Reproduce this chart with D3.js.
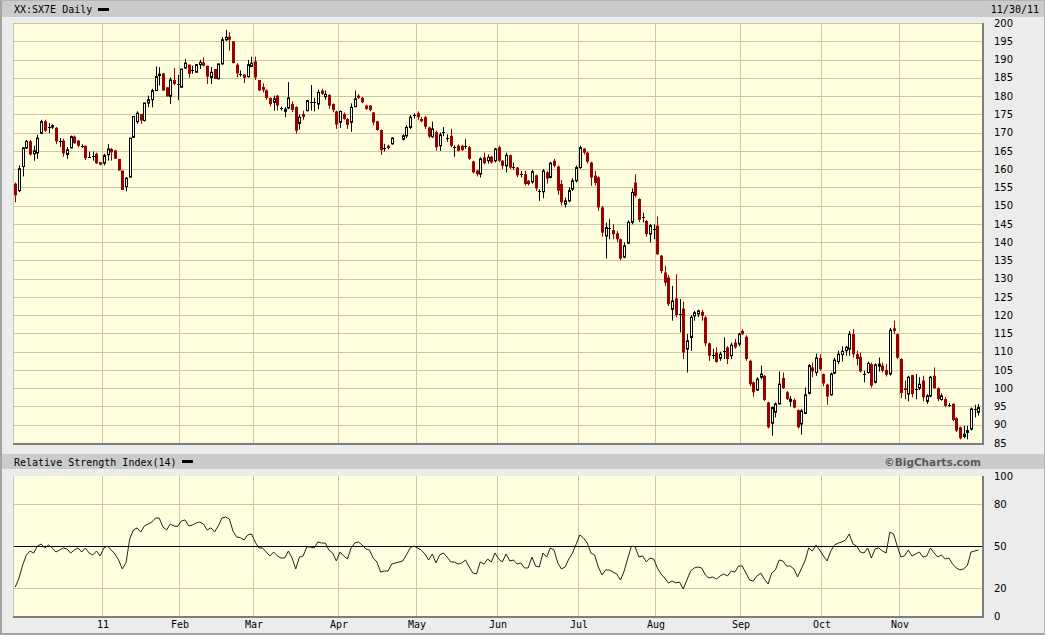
<!DOCTYPE html>
<html><head><meta charset="utf-8">
<script src="https://cdn.jsdelivr.net/npm/d3@7"></script>
<style>
html,body{margin:0;padding:0;background:#ececec;}
svg{display:block;}
</style></head>
<body><svg id="c" width="1045" height="635"></svg>
<script>
// ---------- DATA ----------
const symbolTitle = "XX:SX7E Daily";
const dateTitle = "11/30/11";
const rsiTitle = "Relative Strength Index(14)";
const credit = "\u00A9BigCharts.com";
const startDate = "2010-11-30";
const endDate = "2011-11-30";
const firstTickMonth = "2011-01";
const holidays = ["2011-04-22", "2011-04-25"];
const monthLabels = ["11","Feb","Mar","Apr","May","Jun","Jul","Aug","Sep","Oct","Nov"];
const priceTicks = [85,90,95,100,105,110,115,120,125,130,135,140,145,150,155,160,165,170,175,180,185,190,195,200];
const rsiTicks = [0,20,50,80,100];
const rsiGrid = [20,80];

const open = [156.0,154.1,160.7,165.8,167.6,164.2,164.4,169.8,173.1,171.3,171.5,171.3,167.4,167.8,164.0,165.8,168.9,167.8,166.4,166.4,163.6,163.7,164.2,161.9,
161.6,163.9,165.5,165.1,162.8,159.6,155.2,157.8,168.7,173.0,175.1,173.3,178.1,179.0,181.5,185.6,186.2,182.4,179.9,184.4,183.0,
182.4,187.7,188.6,187.0,186.5,188.6,189.2,188.3,185.1,187.4,184.7,188.8,195.4,196.3,195.0,188.6,186.0,185.9,185.3,188.1,
189.5,184.4,182.5,181.6,179.5,178.3,180.1,176.8,175.8,176.7,177.8,177.0,172.5,175.1,176.0,178.5,178.6,177.8,181.5,179.8,180.3,177.8,175.8,
172.8,175.1,173.7,172.8,177.1,180.1,179.5,177.4,177.4,175.5,173.1,170.7,165.7,166.4,166.9,168.2,169.1,171.4,174.6,
175.3,173.7,174.2,171.4,168.9,170.1,166.4,170.1,168.4,169.1,166.1,166.4,166.4,166.3,166.0,162.1,159.6,158.6,163.2,162.3,163.4,162.3,
166.0,162.3,160.9,163.8,160.6,160.4,158.5,158.6,156.8,156.5,158.3,154.2,153.8,159.1,157.7,162.3,160.7,155.9,150.4,151.3,154.5,156.8,
160.4,165.6,164.5,161.8,158.2,157.7,149.5,141.7,143.9,143.3,142.4,140.8,135.9,139.7,145.4,156.3,151.8,146.9,145.8,142.2,143.5,
144.5,136.3,131.7,130.3,121.6,124.6,120.4,121.8,110.7,113.9,119.8,120.3,120.9,119.4,112.3,109.1,109.8,108.2,110.1,111.2,108.9,112.5,112.1,
115.7,114.1,107.5,101.6,99.5,103.0,103.4,96.1,90.4,93.4,95.7,102.8,98.9,96.4,96.8,94.0,90.2,93.1,98.6,105.7,104.3,108.3,
103.9,101.0,98.2,104.1,107.3,109.2,110.3,110.7,114.8,109.3,108.6,104.1,104.3,106.6,101.6,106.0,106.2,105.0,103.9,116.4,114.8,
108.0,100.0,98.4,103.6,99.7,100.0,102.1,96.4,97.9,103.4,100.0,96.9,97.0,95.3,95.7,91.8,89.3,86.8,87.9,88.8,94.2,93.4];
const high = [156.3,161.0,166.0,168.0,168.0,166.4,169.4,173.5,173.5,172.6,172.3,171.5,168.5,168.3,166.0,169.2,169.2,168.0,166.8,166.4,164.8,164.8,164.5,162.0,
164.2,166.9,165.8,165.3,162.8,159.6,157.8,168.5,174.4,175.8,175.1,178.1,180.1,182.0,188.1,187.9,186.2,182.4,185.1,187.7,185.8,
187.4,190.2,188.6,188.3,188.6,189.9,190.6,188.3,187.9,187.4,188.8,196.1,198.1,197.5,195.0,189.0,187.0,185.9,189.9,190.8,
190.8,184.4,183.5,181.8,179.6,180.1,180.3,177.1,177.0,183.8,178.5,177.2,175.0,176.0,179.0,183.0,179.5,181.8,182.0,181.5,180.5,178.0,176.0,
176.0,175.5,174.0,178.0,181.5,180.5,179.8,177.6,177.5,175.6,173.2,170.8,166.9,166.7,168.7,169.5,172.0,174.8,175.3,
175.8,174.3,174.5,171.6,173.0,170.5,170.0,171.5,169.5,171.0,166.5,166.8,166.7,168.2,166.3,162.3,159.8,163.2,164.5,164.0,163.6,165.8,
166.4,162.5,164.5,164.0,161.8,160.6,159.5,159.5,157.0,159.8,158.5,154.5,160.0,159.5,162.0,162.8,161.0,157.0,152.2,155.0,157.5,160.9,
166.4,165.8,164.8,162.0,159.5,158.0,149.9,145.4,146.3,144.9,143.0,141.0,139.9,146.0,154.7,158.6,152.0,148.1,146.0,145.0,144.9,
147.0,136.5,133.5,131.0,128.0,131.2,124.4,123.7,114.8,120.0,121.2,121.5,121.5,119.8,112.5,110.8,111.2,110.0,113.9,111.5,112.5,113.5,115.2,
116.2,114.5,107.8,101.8,103.0,106.2,103.6,96.3,95.0,96.1,104.6,104.3,99.2,97.9,97.2,94.2,94.3,100.2,106.6,107.0,109.5,109.3,
104.0,101.2,104.3,108.3,110.3,111.5,111.6,115.7,116.2,110.3,109.8,104.8,107.3,107.0,106.8,108.4,107.0,106.6,116.5,118.5,115.0,
108.2,102.1,103.4,103.7,103.9,103.0,103.4,98.4,103.4,105.7,100.2,98.6,97.6,96.0,95.9,92.0,89.5,89.7,89.7,94.7,95.5,95.7];
const low = [150.9,153.7,158.0,165.5,163.7,162.3,162.8,169.6,170.1,169.8,171.0,166.9,166.1,163.4,162.8,165.8,166.9,166.0,165.8,162.5,163.2,162.3,161.4,161.0,
161.0,162.3,162.3,162.8,159.6,154.3,153.9,157.8,168.5,172.4,172.4,173.0,176.9,176.9,181.5,182.9,181.5,179.9,177.8,182.9,178.9,
182.4,187.4,185.0,186.1,186.5,187.4,188.1,183.3,183.3,184.7,184.7,188.6,195.1,192.4,189.0,185.1,185.3,183.5,185.1,187.9,
184.4,181.5,181.0,179.0,177.2,176.0,176.0,176.0,174.2,176.4,175.6,169.7,170.8,173.5,175.8,176.0,175.8,176.4,180.3,179.0,176.5,175.6,171.0,
171.3,173.5,171.0,170.2,176.9,179.2,178.0,176.2,175.8,172.0,170.5,163.9,164.8,165.4,166.7,167.8,168.5,171.0,173.8,
173.5,172.8,171.0,168.5,168.5,165.0,165.0,169.0,167.5,166.0,163.4,164.8,165.0,165.5,162.5,158.8,158.0,157.7,161.3,161.5,161.5,161.8,
162.0,160.0,159.1,160.0,159.8,157.8,157.7,155.5,155.5,156.0,154.0,151.3,152.0,156.0,157.5,160.5,153.0,150.0,149.5,150.9,154.0,156.3,
160.1,164.0,161.5,155.4,155.5,148.5,141.5,135.5,140.8,140.8,140.0,135.0,135.6,139.5,144.9,152.2,145.5,145.4,141.5,139.9,140.8,
136.5,131.5,128.0,122.5,118.5,119.4,115.3,108.0,104.3,110.2,118.5,119.5,118.5,111.5,107.5,108.0,107.0,107.5,108.0,106.6,108.0,110.8,111.5,
114.6,107.5,100.5,97.7,99.3,102.5,96.5,89.0,87.0,92.0,95.5,99.8,96.8,95.0,94.5,89.0,87.3,92.9,98.3,103.0,103.4,104.8,
100.5,95.5,98.0,103.8,106.6,107.3,108.9,108.9,108.4,106.2,104.3,101.6,104.0,100.2,101.3,104.6,104.3,103.2,103.5,114.8,108.0,
97.3,97.0,96.4,97.5,97.0,99.5,96.4,95.7,97.5,99.8,96.4,96.6,94.8,94.9,91.0,88.0,86.0,86.3,86.0,88.4,92.0,92.5];
const close = [152.8,160.1,165.8,167.6,164.0,165.0,168.5,173.0,170.5,171.5,171.9,167.6,167.6,164.3,165.3,168.9,167.1,166.4,166.3,163.0,163.4,163.6,161.6,161.2,
163.7,165.5,164.6,162.8,159.6,154.3,157.5,168.5,174.4,175.3,173.3,178.1,179.0,181.5,185.3,186.0,181.5,179.9,184.4,183.3,183.2,
187.4,189.0,186.1,187.0,188.6,189.2,188.3,185.3,186.5,184.7,188.8,195.4,196.1,195.4,189.0,186.2,186.0,185.0,188.6,189.0,
185.1,181.5,181.6,179.5,177.8,179.2,177.4,176.6,176.4,179.5,176.2,170.5,174.2,174.3,178.7,178.5,178.3,181.0,180.6,180.5,177.4,176.2,172.2,
175.8,173.7,172.1,176.9,179.2,179.5,178.3,176.5,176.2,172.8,170.7,165.2,165.9,165.7,168.5,169.1,171.4,174.2,174.7,
174.2,173.1,171.6,168.9,171.0,166.0,169.4,170.2,168.5,166.4,166.0,165.0,165.2,166.4,162.8,159.1,158.6,162.8,161.6,163.2,161.8,165.5,
162.3,160.9,163.8,160.4,160.7,158.3,158.6,155.9,155.9,159.3,154.7,154.1,159.5,157.4,161.6,160.9,154.1,150.9,151.3,154.1,156.8,160.4,
165.9,164.5,162.0,157.7,156.2,149.5,142.6,144.0,143.8,142.2,140.8,135.5,139.0,145.4,153.6,152.7,146.1,146.8,142.2,144.5,143.6,
136.7,132.1,128.9,123.0,123.9,120.0,120.3,109.8,113.0,119.4,120.7,121.2,119.8,112.3,108.9,109.0,107.2,109.3,110.2,108.0,111.8,111.2,114.8,
114.8,108.0,101.1,98.9,102.5,103.9,96.8,89.3,94.7,95.7,101.1,100.0,97.0,97.0,94.7,89.3,93.8,98.2,106.2,104.6,108.3,105.2,
101.3,97.7,103.9,107.7,109.3,110.1,111.2,114.8,109.3,108.0,104.6,104.0,106.8,100.7,106.4,106.6,104.8,103.7,115.9,115.7,108.4,
98.7,99.5,103.0,98.4,99.8,101.1,97.5,97.9,103.0,100.0,97.0,97.9,95.2,95.4,91.3,88.4,86.3,87.4,88.4,94.3,94.3,94.7];

// RSI(14) values, one per trading day
const rsi = [20.7,27.1,36.4,43.6,46.4,45.0,50.0,51.4,48.6,50.7,
48.6,45.7,47.1,48.6,47.9,45.0,47.1,48.6,45.7,48.6,
45.0,43.6,46.4,42.9,48.6,50.0,47.1,44.3,40.0,33.6,
37.9,55.0,61.4,62.9,60.0,64.3,65.7,67.1,70.0,70.0,
63.6,61.4,65.7,64.3,64.0,67.9,68.6,64.3,65.0,66.4,
67.1,65.7,61.4,63.0,60.0,64.3,70.0,70.7,69.3,60.7,
56.4,56.0,54.3,57.9,58.6,52.9,48.6,48.6,45.7,42.9,
45.7,42.9,41.4,41.4,46.4,41.4,33.6,42.1,42.9,49.3,
49.3,48.6,52.9,52.1,52.1,47.1,45.0,39.3,45.7,42.9,
40.7,48.6,52.1,52.9,50.7,47.9,47.1,41.4,38.6,31.4,
32.1,32.1,37.1,
39.3,43.6,48.6,50.0,48.6,
47.1,44.3,40.0,44.3,37.9,43.6,45.0,42.1,38.6,38.6,
37.1,37.9,40.0,35.0,30.7,30.0,38.6,37.1,40.7,38.6,
45.0,40.7,38.6,44.3,39.3,40.0,37.1,37.9,34.3,34.3,
42.1,35.7,35.0,45.0,42.1,48.6,47.1,37.9,33.6,35.0,
40.7,45.0,51.4,57.9,55.7,52.1,45.0,43.6,35.0,29.3,
32.9,32.9,31.4,30.0,25.7,32.1,41.4,50.0,49.3,42.1,
43.0,38.6,41.4,40.7,34.3,30.0,27.1,23.6,25.0,23.6,
24.3,19.3,25.7,32.1,34.3,35.0,34.3,29.3,27.1,27.9,
26.4,28.6,30.0,28.6,32.1,31.4,35.7,35.7,30.7,25.7,
25.0,28.6,30.7,26.4,22.9,30.7,32.9,40.0,39.3,35.7,
35.7,33.6,27.9,33.6,39.3,48.6,46.4,50.7,47.1,42.9,
39.3,46.4,50.7,52.1,52.9,54.3,58.6,51.4,50.0,45.7,
45.0,48.6,41.4,47.9,48.6,46.4,45.0,60.0,58.6,50.0,
42.1,43.0,47.1,42.9,44.3,45.7,42.1,42.9,48.6,45.0,
42.1,43.6,40.7,41.4,37.1,34.3,32.9,33.6,36.0,45.7,
46.4,47.1];

// ---------- LAYOUT ----------
const W = 1045, H = 635;
const plotL = 14, plotR = 982;
const mainT = 23, mainB = 443;
const rsiT = 476, rsiB = 616;
const bg = "#ffffe0", gridCol = "#cdc89c", upFill = "#ffffe0", downCol = "#990000";
const mono = "'DejaVu Sans Mono', monospace";
const sans = "'DejaVu Sans', Verdana, sans-serif";

const svg = d3.select("#c");

// dates
const parse = d3.utcParse("%Y-%m-%d"), fmt = d3.utcFormat("%Y-%m-%d");
const weekdays = d3.utcDays(parse(startDate), d3.utcDay.offset(parse(endDate), 1))
  .filter(d => d.getUTCDay() !== 0 && d.getUTCDay() !== 6).map(fmt);
const tradingDays = weekdays.filter(d => !holidays.includes(d));
const rows = tradingDays.map((d, i) => ({d, o: open[i], h: high[i], l: low[i], c: close[i]}));

const x = d3.scalePoint().domain(weekdays).range([15.3, 978.4]);
const y = d3.scaleLinear().domain([85, 200]).range([mainB, mainT]);
const yr = d3.scaleLinear().domain([0, 100]).range([rsiB, rsiT]);

// month starts (first weekday of each month, from January 2011)
const monthStarts = [];
weekdays.forEach((d, i) => {
  if (i > 0 && d.slice(0,7) !== weekdays[i-1].slice(0,7) && d.slice(0,7) >= firstTickMonth) monthStarts.push(d);
});
const gx = d => Math.round(x(d)) - 1.5;

// background
svg.append("rect").attr("width", W).attr("height", H).attr("fill", "#ececec");
svg.append("rect").attr("x", 0).attr("y", 0).attr("width", 2).attr("height", H).attr("fill", "#a4a4a4");
svg.append("rect").attr("x", 0).attr("y", H - 2).attr("width", W).attr("height", 2).attr("fill", "#a4a4a4");
svg.append("rect").attr("x", 0).attr("y", 0).attr("width", W).attr("height", 1).attr("fill", "#b4b4b4");
svg.append("rect").attr("x", W - 1).attr("y", 0).attr("width", 1).attr("height", H).attr("fill", "#b4b4b4");

// header bars
svg.append("rect").attr("x", 2).attr("y", 1).attr("width", W - 3).attr("height", 16).attr("fill", "#cbcbcb");
svg.append("rect").attr("x", 2).attr("y", 454).attr("width", W - 3).attr("height", 15).attr("fill", "#cbcbcb");

svg.append("text").attr("x", 14).attr("y", 13).attr("font-family", mono).attr("font-size", 10).text(symbolTitle);
svg.append("rect").attr("x", 98).attr("y", 8).attr("width", 11).attr("height", 3).attr("fill", "#000");
svg.append("text").attr("x", 1039).attr("y", 13).attr("text-anchor", "end").attr("font-family", mono).attr("font-size", 10).text(dateTitle);

svg.append("text").attr("x", 14).attr("y", 465.5).attr("font-family", mono).attr("font-size", 10).text(rsiTitle);
svg.append("rect").attr("x", 182).attr("y", 460).attr("width", 11).attr("height", 3).attr("fill", "#000");
svg.append("text").attr("x", 981).attr("y", 465.5).attr("text-anchor", "end").attr("font-family", sans)
  .attr("font-size", 10.5).attr("font-weight", "bold").attr("fill", "#5a5a5a").text(credit);

// plot panels
function panel(top, bottom) {
  svg.append("rect").attr("x", plotL).attr("y", top).attr("width", plotR - plotL).attr("height", bottom - top).attr("fill", bg);
}
panel(mainT, mainB);
panel(rsiT, rsiB);

// main grid
const gMain = svg.append("g");
gMain.selectAll("line.h").data(priceTicks).join("line")
  .attr("x1", plotL).attr("x2", plotR).attr("y1", d => Math.round(y(d)) + 0.5).attr("y2", d => Math.round(y(d)) + 0.5)
  .attr("stroke", gridCol);
gMain.selectAll("line.v").data(monthStarts).join("line")
  .attr("x1", gx).attr("x2", gx).attr("y1", mainT).attr("y2", mainB).attr("stroke", gridCol);

// RSI grid
const gR = svg.append("g");
gR.selectAll("line.h").data(rsiGrid).join("line")
  .attr("x1", plotL).attr("x2", plotR).attr("y1", d => Math.round(yr(d)) + 0.5).attr("y2", d => Math.round(yr(d)) + 0.5)
  .attr("stroke", gridCol);
gR.selectAll("line.v").data(monthStarts).join("line")
  .attr("x1", gx).attr("x2", gx).attr("y1", rsiT).attr("y2", rsiB).attr("stroke", gridCol);
gR.append("line").attr("x1", plotL).attr("x2", plotR).attr("y1", Math.round(yr(50)) + 0.5).attr("y2", Math.round(yr(50)) + 0.5)
  .attr("stroke", "#000");

// panel borders
function border(top, bottom) {
  svg.append("line").attr("x1", plotL - 0.5).attr("x2", plotL - 0.5).attr("y1", top).attr("y2", bottom).attr("stroke", "#c8c8b8");
  svg.append("rect").attr("x", plotL - 1).attr("y", bottom).attr("width", plotR - plotL + 2).attr("height", 2).attr("fill", "#7d7d7d");
  svg.append("rect").attr("x", plotR).attr("y", top).attr("width", 2).attr("height", bottom - top + 2).attr("fill", "#7d7d7d");
}
border(mainT, mainB);
border(rsiT, rsiB);

// candles
const gc = svg.append("g");
const cx = r => Math.round(x(r.d));
const isDoji = r => Math.abs(r.c - r.o) < 0.35;
const isUp = r => r.c >= r.o;
gc.selectAll("line.wick").data(rows).join("line")
  .attr("x1", r => cx(r) + 0.5).attr("x2", r => cx(r) + 0.5)
  .attr("y1", r => y(r.h)).attr("y2", r => y(r.l))
  .attr("stroke", r => (isUp(r) || isDoji(r)) ? "#000" : downCol);
gc.selectAll("rect.down").data(rows.filter(r => !isUp(r) && !isDoji(r))).join("rect")
  .attr("x", r => cx(r) - 1).attr("width", 3)
  .attr("y", r => y(r.o)).attr("height", r => Math.max(1, y(r.c) - y(r.o)))
  .attr("fill", downCol);
gc.selectAll("rect.up").data(rows.filter(r => isUp(r) && !isDoji(r))).join("rect")
  .attr("x", r => cx(r) - 0.5).attr("width", 2)
  .attr("y", r => y(r.c)).attr("height", r => Math.max(1, y(r.o) - y(r.c)))
  .attr("fill", upFill).attr("stroke", "#000").attr("stroke-width", 1);
gc.selectAll("line.doji").data(rows.filter(isDoji)).join("line")
  .attr("x1", r => cx(r) - 1).attr("x2", r => cx(r) + 2)
  .attr("y1", r => Math.round(y(r.c)) + 0.5).attr("y2", r => Math.round(y(r.c)) + 0.5)
  .attr("stroke", "#000");

// RSI line
const rsiPts = tradingDays.map((d, i) => ({d, v: rsi[i]}));
svg.append("path").datum(rsiPts)
  .attr("d", d3.line().x(p => x(p.d)).y(p => yr(p.v)))
  .attr("fill", "none").attr("stroke", "#222").attr("stroke-width", 1);

// axes (labels only)
const axisR = svg.append("g").attr("transform", `translate(994,0)`)
  .call(d3.axisRight(y).tickValues(priceTicks).tickSize(0).tickPadding(0));
axisR.select(".domain").remove();
axisR.selectAll("text").attr("font-family", sans).attr("font-size", 10).attr("fill", "#000");

const axisRR = svg.append("g").attr("transform", `translate(994,0)`)
  .call(d3.axisRight(yr).tickValues(rsiTicks).tickSize(0).tickPadding(0));
axisRR.select(".domain").remove();
axisRR.selectAll("text").attr("font-family", sans).attr("font-size", 10).attr("fill", "#000");

const xb = svg.append("g").attr("transform", `translate(0,${rsiB + 2})`)
  .call(d3.axisBottom(d3.scaleOrdinal().domain(monthStarts).range(monthStarts.map(d => gx(d)))).tickValues(monthStarts)
  .tickSize(0).tickPadding(0).tickFormat((d, i) => monthLabels[i]));
xb.select(".domain").remove();
xb.selectAll("text").attr("font-family", mono).attr("font-size", 10).attr("fill", "#000").attr("dy", "0.95em");
</script>
</body></html>
